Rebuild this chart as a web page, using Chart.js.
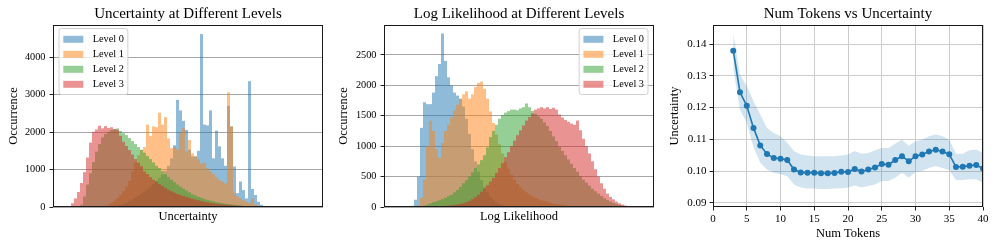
<!DOCTYPE html>
<html><head><meta charset="utf-8">
<script src="https://cdn.jsdelivr.net/npm/chart.js@4.4.1/dist/chart.umd.min.js"></script>
<style>
html,body{margin:0;padding:0;background:#fff;}
#wrap{position:relative;width:997px;height:249px;overflow:hidden;background:#fff}
canvas{position:absolute;top:0}
</style></head><body>
<div id="wrap">
<canvas id="c1" width="330" height="249" style="left:0px"></canvas>
<canvas id="c2" width="330" height="249" style="left:330px"></canvas>
<canvas id="c3" width="337" height="249" style="left:660px"></canvas>
</div>
<script>
// ---------- DATA ----------
const levelNames = ['Level 0', 'Level 1', 'Level 2', 'Level 3'];

// histogram bins (90 equal bins across the axis, tick labels hidden)
const binCount = 90;

// Uncertainty histogram counts per bin
const uncLevel0 = [0,0,0,0,0,0,0,0,0,0, 0,0,0,0,0,0,0,0,0,0,
  20,40,60,90,120,160,200,250,300,360, 420,480,550,620,700,780,870,970,1100,1300,
  1650,2860,2580,2300,2060,1530,1350,1350,1500,4620, 2200,2180,2580,1300,2040,1620,1300,1100,2700,2150,
  1080,370,680,450,230,3360,480,320,140,60, 20,0,0,0,0,0,0,0,0,0, 0,0,0,0,0,0,0,0,0,0];
const uncLevel1 = [0,0,0,0,0,0,0,0,0,0, 0,0,0,0,0,0,0,30,60,110,
  170,240,320,420,540,700,950,1200,1380,1520, 1600,2200,1900,2150,2130,2520,2200,2400,1830,1570,
  1610,1540,1970,2100,1480,1790,1430,1350,1270,1160, 1180,1030,950,880,800,720,680,630,3060,2150,
  380,280,230,180,140,110,230,70,0,0, 0,0,0,0,0,0,0,0,0,0, 0,0,0,0,0,0,0,0,0,0];
const uncLevel2 = [0,0,0,0,0,0,0,0,0,60, 280,600,900,1200,1480,1680,1860,1950,2010,2050,
  2080,2100,2030,1970,1920,1840,1760,1680,1600,1530, 1450,1360,1280,1190,1100,1040,960,880,800,730,
  660,600,545,490,440,390,340,310,275,245, 215,190,168,150,130,115,100,88,76,66,
  57,48,40,33,26,20,14,9,5,2, 0,0,0,0,0,0,0,0,0,0, 0,0,0,0,0,0,0,0,0,0];
const uncLevel3 = [0,0,0,0,0,0,100,230,400,640, 930,1320,1720,2010,2070,2170,2100,2160,2110,2130,
  2080,2060,1900,1740,1630,1520,1400,1280,1180,1090, 950,880,800,730,680,610,560,510,460,420,
  385,350,320,295,270,245,220,200,180,160, 140,125,110,100,88,78,70,62,55,48,
  42,36,30,25,20,15,10,6,3,0, 0,0,0,0,0,0,0,0,0,0, 0,0,0,0,0,0,0,0,0,0];

// Log-likelihood histogram counts per bin
const llLevel0 = [0,0,0,0,0,0,0,0,0,20, 120,500,1300,1720,1690,1690,1880,2150,2350,2850,
  2400,2130,2000,1880,1830,1780,1650,1450,1200,950, 750,580,440,330,240,170,120,80,50,30,
  15,5,0,0,0,0,0,0,0,0, 0,0,0,0,0,0,0,0,0,0, 0,0,0,0,0,0,0,0,0,0,
  0,0,0,0,0,0,0,0,0,0, 0,0,0,0,0,0,0,0,0,0];
const llLevel1 = [0,0,0,0,0,0,0,0,0,0, 0,30,150,450,1000,1420,1250,950,810,1050,
  1250,1350,1470,1580,1680,1770,1850,1900,1780,1850, 1970,2040,2060,1940,1780,1570,1380,1190,1030,880,
  740,630,530,450,380,330,280,240,210,180, 150,130,115,100,85,72,60,50,42,35,
  28,22,17,13,10,7,5,3,0,0, 0,0,0,0,0,0,0,0,0,0, 0,0,0,0,0,0,0,0,0,0];
const llLevel2 = [0,0,0,0,0,0,0,0,0,0, 0,0,10,25,40,60,80,95,110,130,
  150,180,200,240,280,330,390,440,500,570, 640,700,770,850,980,1150,1250,1350,1450,1510,
  1550,1575,1600,1600,1590,1620,1640,1700,1640,1580, 1530,1490,1450,1390,1330,1250,1160,1080,990,920,
  850,780,710,640,580,510,450,400,350,300, 260,220,180,145,115,90,70,50,35,22,
  12,5,0,0,0,0,0,0,0,0];
const llLevel3 = [0,0,0,0,0,0,0,0,0,0, 0,0,0,0,0,5,5,8,10,14,
  18,22,28,35,42,52,62,80,100,130, 160,200,250,300,360,420,480,560,640,720,
  820,900,1000,1090,1180,1260,1340,1420,1480,1540, 1600,1620,1640,1620,1640,1610,1630,1600,1520,1470,
  1430,1400,1370,1350,1420,1260,1120,1000,880,750, 620,500,390,300,220,165,125,90,60,40,
  25,12,5,0,0,0,0,0,0,0];

// Num tokens vs uncertainty (mean with shaded band)
const numTokens = [3,4,5,6,7,8,9,10,11,12,13,14,15,16,17,18,19,20,21,22,23,24,25,26,27,28,29,30,31,32,33,34,35,36,37,38,39,40];
const meanUnc = [0.1379,0.1248,0.1206,0.1136,0.1081,0.1054,0.1041,0.1039,0.1035,0.1005,0.0996,0.0995,0.0995,0.0993,0.0993,0.0994,0.0998,0.0997,0.1007,0.0999,0.1005,0.1011,0.1022,0.1020,0.1035,0.1047,0.1031,0.1047,0.1052,0.1062,0.1067,0.1062,0.1053,0.1013,0.1014,0.1017,0.1019,0.1008];
const upperUnc = [0.1434,0.1303,0.1269,0.1220,0.1178,0.1136,0.1120,0.1110,0.1089,0.1063,0.1052,0.1049,0.1047,0.1047,0.1047,0.1047,0.1049,0.1052,0.1063,0.1055,0.1057,0.1066,0.1073,0.1073,0.1087,0.1099,0.1080,0.1094,0.1099,0.1110,0.1115,0.1110,0.1099,0.1055,0.1055,0.1066,0.1068,0.1057];
const lowerUnc = [0.1325,0.1193,0.1152,0.1075,0.1026,0.1005,0.0995,0.0990,0.0984,0.0958,0.0948,0.0945,0.0945,0.0944,0.0944,0.0945,0.0946,0.0948,0.0955,0.0948,0.0953,0.0958,0.0969,0.0969,0.0979,0.0995,0.0979,0.0997,0.1000,0.1010,0.1016,0.1010,0.1003,0.0972,0.0972,0.0974,0.0974,0.0963];

// tick labels
const uncCountTicks = [0, 1000, 2000, 3000, 4000];
const llCountTicks = [0, 500, 1000, 1500, 2000, 2500];
const tokenTicks = [0, 5, 10, 15, 20, 25, 30, 35, 40];
const uncValueTicks = [0.09, 0.10, 0.11, 0.12, 0.13, 0.14];

// ---------- STYLE ----------
const FF = '"Liberation Serif", "Times New Roman", Times, serif';
Chart.defaults.font.family = FF;
Chart.defaults.color = '#000';
const levelColors = ['rgba(31,119,180,0.5)', 'rgba(255,127,14,0.5)', 'rgba(44,160,44,0.5)', 'rgba(214,39,40,0.5)'];
const binLabels = Array.from({length: binCount}, (_, i) => String(i));
const setTicks = arr => (s => { s.ticks = arr.map(v => ({value: v})); });

// frame + matplotlib-like legend
const mplPlugin = {
  id: 'mpl',
  afterDraw(chart, args, opts) {
    const ctx = chart.ctx, ca = chart.chartArea;
    ctx.save();
    ctx.strokeStyle = '#1a1a1a';
    ctx.lineWidth = 1;
    ctx.strokeRect(Math.round(ca.left) + 0.5, Math.round(ca.top) + 0.5, Math.round(ca.width) - 1, Math.round(ca.height) - 1);
    if (opts && opts.legend) {
      const fs = 10.3;
      ctx.font = fs + 'px ' + FF;
      const ds = chart.data.datasets;
      const tw = Math.max(...ds.map(d => ctx.measureText(d.label).width));
      const padL = 4.3, hw = 20, hh = 7, gap = 9.4, padR = 4, row = 15;
      const w = padL + hw + gap + tw + padR;
      const h = 4 * row + 6;
      const x0 = opts.legend === 'left' ? ca.left + 6 : ca.right - 6 - w;
      const y0 = ca.top + 3.5;
      ctx.beginPath();
      const r = 2.5;
      ctx.moveTo(x0 + r, y0); ctx.lineTo(x0 + w - r, y0); ctx.arcTo(x0 + w, y0, x0 + w, y0 + r, r);
      ctx.lineTo(x0 + w, y0 + h - r); ctx.arcTo(x0 + w, y0 + h, x0 + w - r, y0 + h, r);
      ctx.lineTo(x0 + r, y0 + h); ctx.arcTo(x0, y0 + h, x0, y0 + h - r, r);
      ctx.lineTo(x0, y0 + r); ctx.arcTo(x0, y0, x0 + r, y0, r);
      ctx.closePath();
      ctx.fillStyle = 'rgba(255,255,255,0.8)';
      ctx.fill();
      ctx.strokeStyle = '#d0d0d0';
      ctx.stroke();
      ds.forEach((d, i) => {
        const cy = y0 + 10.8 + i * row;
        ctx.fillStyle = d.backgroundColor;
        ctx.fillRect(x0 + padL, cy - hh / 2, hw, hh);
        ctx.fillStyle = '#000';
        ctx.textBaseline = 'middle';
        ctx.textAlign = 'left';
        ctx.fillText(d.label, x0 + padL + hw + gap, cy);
      });
    }
    ctx.restore();
  }
};

function histChart(id, title, xTitle, series, yMax, yTicks, rightPad, yWidth, legendSide) {
  return new Chart(document.getElementById(id), {
    type: 'bar',
    data: {
      labels: binLabels,
      datasets: series.map((s, i) => ({
        label: levelNames[i], data: s, backgroundColor: levelColors[i],
        borderWidth: 0, grouped: false, barPercentage: 1, categoryPercentage: 1,
        inflateAmount: 0, order: 3 - i
      }))
    },
    options: {
      responsive: false, animation: false, devicePixelRatio: 1,
      layout: {padding: {left: 0, right: rightPad, top: 0, bottom: 0}},
      plugins: {
        legend: {display: false}, tooltip: {enabled: false},
        title: {display: true, text: title, color: '#000', fullSize: false,
          font: {family: FF, size: 15, weight: 'normal'}, padding: {top: 5, bottom: 2}},
        mpl: {legend: legendSide}
      },
      scales: {
        x: {type: 'category', offset: true,
          grid: {display: false}, border: {display: false}, ticks: {display: false},
          title: {display: true, text: xTitle, color: '#000', font: {family: FF, size: 12.5}, padding: {top: 0, bottom: 24.5}},
          afterFit(s) { s.height = 42; }},
        y: {min: 0, max: yMax, z: 1,
          afterBuildTicks: setTicks(yTicks),
          ticks: {color: '#000', font: {family: FF, size: 10.3}, padding: 4, callback: v => String(v)},
          grid: {color: '#a6a6a6', tickColor: '#222', tickLength: 3.5, lineWidth: 1},
          border: {display: false},
          title: {display: true, text: 'Occurrence', color: '#000', font: {family: FF, size: 12.5}, padding: {top: 6, bottom: 0}},
          afterFit(s) { s.width = yWidth; }}
      }
    },
    plugins: [mplPlugin]
  });
}

histChart('c1', 'Uncertainty at Different Levels', 'Uncertainty',
  [uncLevel0, uncLevel1, uncLevel2, uncLevel3], 4860, uncCountTicks, 7, 53, 'left');
histChart('c2', 'Log Likelihood at Different Levels', 'Log Likelihood',
  [llLevel0, llLevel1, llLevel2, llLevel3], 2990, llCountTicks, 6, 54, 'right');

new Chart(document.getElementById('c3'), {
  type: 'line',
  data: {
    datasets: [
      {label: 'mean', data: numTokens.map((t, i) => ({x: t, y: meanUnc[i]})),
        borderColor: '#1f77b4', backgroundColor: '#1f77b4', borderWidth: 1.6,
        pointRadius: 3, pointBorderWidth: 0, pointBackgroundColor: '#1f77b4', fill: false, tension: 0},
      {label: 'upper', data: numTokens.map((t, i) => ({x: t, y: upperUnc[i]})),
        borderColor: 'transparent', borderWidth: 0, pointRadius: 0,
        backgroundColor: 'rgba(31,119,180,0.2)', fill: '+1', tension: 0},
      {label: 'lower', data: numTokens.map((t, i) => ({x: t, y: lowerUnc[i]})),
        borderColor: 'transparent', borderWidth: 0, pointRadius: 0, fill: false, tension: 0}
    ]
  },
  options: {
    responsive: false, animation: false, devicePixelRatio: 1,
    layout: {padding: {left: 0, right: 14, top: 0, bottom: 0}},
    plugins: {
      legend: {display: false}, tooltip: {enabled: false},
      title: {display: true, text: 'Num Tokens vs Uncertainty', color: '#000', fullSize: false,
        font: {family: FF, size: 15, weight: 'normal'}, padding: {top: 5, bottom: 2}},
      mpl: {legend: null}
    },
    scales: {
      x: {type: 'linear', min: 0, max: 40,
        afterBuildTicks: setTicks(tokenTicks),
        ticks: {color: '#000', font: {family: FF, size: 11}, padding: 2, maxRotation: 0, callback: v => String(v)},
        grid: {color: '#cccccc', tickColor: '#222', tickLength: 3.5, lineWidth: 1},
        border: {display: false},
        title: {display: true, text: 'Num Tokens', color: '#000', font: {family: FF, size: 12.5}, padding: {top: 0, bottom: 8}},
        afterFit(s) { s.height = 42; }},
      y: {min: 0.0887, max: 0.146,
        afterBuildTicks: setTicks(uncValueTicks),
        ticks: {color: '#000', font: {family: FF, size: 11}, padding: 3, callback: v => v.toFixed(2)},
        grid: {color: '#cccccc', tickColor: '#222', tickLength: 3.5, lineWidth: 1},
        border: {display: false},
        title: {display: true, text: 'Uncertainty', color: '#000', font: {family: FF, size: 12.5}, padding: {top: 7.5, bottom: 0}},
        afterFit(s) { s.width = 53; }}
    }
  },
  plugins: [mplPlugin]
});
</script>
</body></html>
